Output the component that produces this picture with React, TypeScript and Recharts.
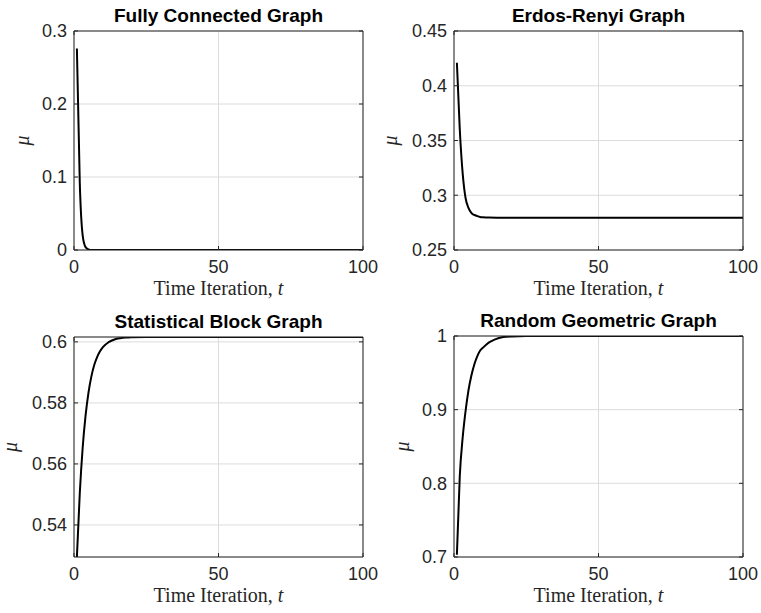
import React from "react";
import { LineChart, Line, XAxis, YAxis, CartesianGrid } from "recharts";

// time steps and mu values
const tFull = [1, 2, 3, 4, 5, 6, 100];
const muFull = [0.276, 0.092, 0.02, 0.004, 0.001, 0, 0];

const tER = [1, 2, 3, 4, 5, 6, 7, 8, 9, 10, 12, 15, 100];
const muER = [0.421, 0.36, 0.32, 0.2975, 0.2885, 0.284, 0.282, 0.281, 0.2802, 0.2799, 0.2796, 0.2795, 0.2795];

const tSB = [1, 2, 3, 4, 5, 6, 7, 8, 9, 10, 12, 14, 16, 18, 20, 25, 100];
const muSB = [
  0.5295, 0.5504, 0.5653, 0.5758, 0.5833, 0.5886, 0.5924, 0.595, 0.5969, 0.5983, 0.5999, 0.6008, 0.6012,
  0.6014, 0.6015, 0.6016, 0.6016,
];

const tRG = [1, 2, 3, 4, 5, 6, 7, 8, 9, 10, 12, 14, 17, 20, 25, 100];
const muRG = [0.703, 0.81, 0.862, 0.898, 0.926, 0.946, 0.961, 0.972, 0.98, 0.984, 0.991, 0.995, 0.9985, 0.9994, 0.9999, 1];

const xTicks = [0, 50, 100];
const fullTicks = [0, 0.1, 0.2, 0.3];
const erTicks = [0.25, 0.3, 0.35, 0.4, 0.45];
const sbTicks = [0.54, 0.56, 0.58, 0.6];
const rgTicks = [0.7, 0.8, 0.9, 1];

const AXIS = "#262626";
const SANS = "'Liberation Sans', Arial, Helvetica, sans-serif";
const SERIF = "'Liberation Serif', 'Times New Roman', serif";

function Panel({ left, top, height, plotTop, plotBottom, title, ts, mus, domain, yTicks, muX }: any) {
  const W = 380;
  const plotLeft = 74;
  const plotRight = 363;
  const labelY = plotBottom + 45;
  const rows = ts.map((t: number, i: number) => ({ t, mu: mus[i] }));
  const cx = (plotLeft + plotRight) / 2;
  const cy = (plotTop + plotBottom) / 2;
  const tickStyle = { fontSize: 18, fill: AXIS, fontFamily: SANS };

  return (
    <div style={{ position: "absolute", left, top, width: W, height }}>
      <LineChart
        width={W}
        height={height}
        data={rows}
        margin={{ top: plotTop - 1, right: W - plotRight - 1, bottom: 0, left: 0 }}
      >
        <CartesianGrid stroke="#dcdcdc" strokeWidth={1} />
        <XAxis
          dataKey="t"
          type="number"
          domain={[0, 100]}
          ticks={xTicks}
          interval={0}
          height={height - plotBottom}
          stroke={AXIS}
          tickSize={-4}
          tickMargin={14}
          tick={tickStyle}
        />
        <XAxis
          xAxisId="top"
          orientation="top"
          type="number"
          domain={[0, 100]}
          ticks={xTicks}
          interval={0}
          height={1}
          stroke={AXIS}
          tickSize={-4}
          tickFormatter={() => ""}
        />
        <YAxis
          type="number"
          domain={domain}
          ticks={yTicks}
          interval={0}
          allowDataOverflow
          width={plotLeft}
          stroke={AXIS}
          tickSize={-4}
          tickMargin={11}
          tick={tickStyle}
          tickFormatter={(v: number) => String(v)}
        />
        <YAxis
          yAxisId="right"
          orientation="right"
          type="number"
          domain={domain}
          ticks={yTicks}
          interval={0}
          allowDataOverflow
          width={1}
          stroke={AXIS}
          tickSize={-4}
          tickFormatter={() => ""}
        />
        <Line
          type="monotone"
          dataKey="mu"
          stroke="#000"
          strokeWidth={2}
          dot={false}
          isAnimationActive={false}
        />
      </LineChart>

      {/* titles and axis labels */}
      <svg
        width={W}
        height={height}
        style={{ position: "absolute", left: 0, top: 0, pointerEvents: "none" }}
      >
        <text x={cx} y={plotTop - 9} textAnchor="middle" fontFamily={SANS} fontWeight="bold" fontSize={19} fill="#000">
          {title}
        </text>
        <text x={cx} y={labelY} textAnchor="middle" fontFamily={SERIF} fontSize={20} fill={AXIS}>
          Time Iteration, <tspan fontStyle="italic">t</tspan>
        </text>
        <text
          x={muX}
          y={cy}
          textAnchor="middle"
          fontFamily={SERIF}
          fontStyle="italic"
          fontSize={20}
          fill={AXIS}
          transform={`rotate(-90 ${muX} ${cy})`}
        >
          μ
        </text>
      </svg>
    </div>
  );
}

export default function App() {
  return (
    <div style={{ position: "absolute", left: 0, top: 0, width: 761, height: 613, background: "#fff" }}>
      <Panel left={0} top={0} height={300} plotTop={31} plotBottom={250} title="Fully Connected Graph"
        ts={tFull} mus={muFull} domain={[0, 0.3]} yTicks={fullTicks} muX={29} />
      <Panel left={380} top={0} height={300} plotTop={31} plotBottom={250} title="Erdos-Renyi Graph"
        ts={tER} mus={muER} domain={[0.25, 0.45]} yTicks={erTicks} muX={17} />
      <Panel left={0} top={300} height={313} plotTop={37} plotBottom={257} title="Statistical Block Graph"
        ts={tSB} mus={muSB} domain={[0.5295, 0.6016]} yTicks={sbTicks} muX={17} />
      <Panel left={380} top={300} height={313} plotTop={36} plotBottom={257} title="Random Geometric Graph"
        ts={tRG} mus={muRG} domain={[0.7, 1]} yTicks={rgTicks} muX={29} />
    </div>
  );
}
